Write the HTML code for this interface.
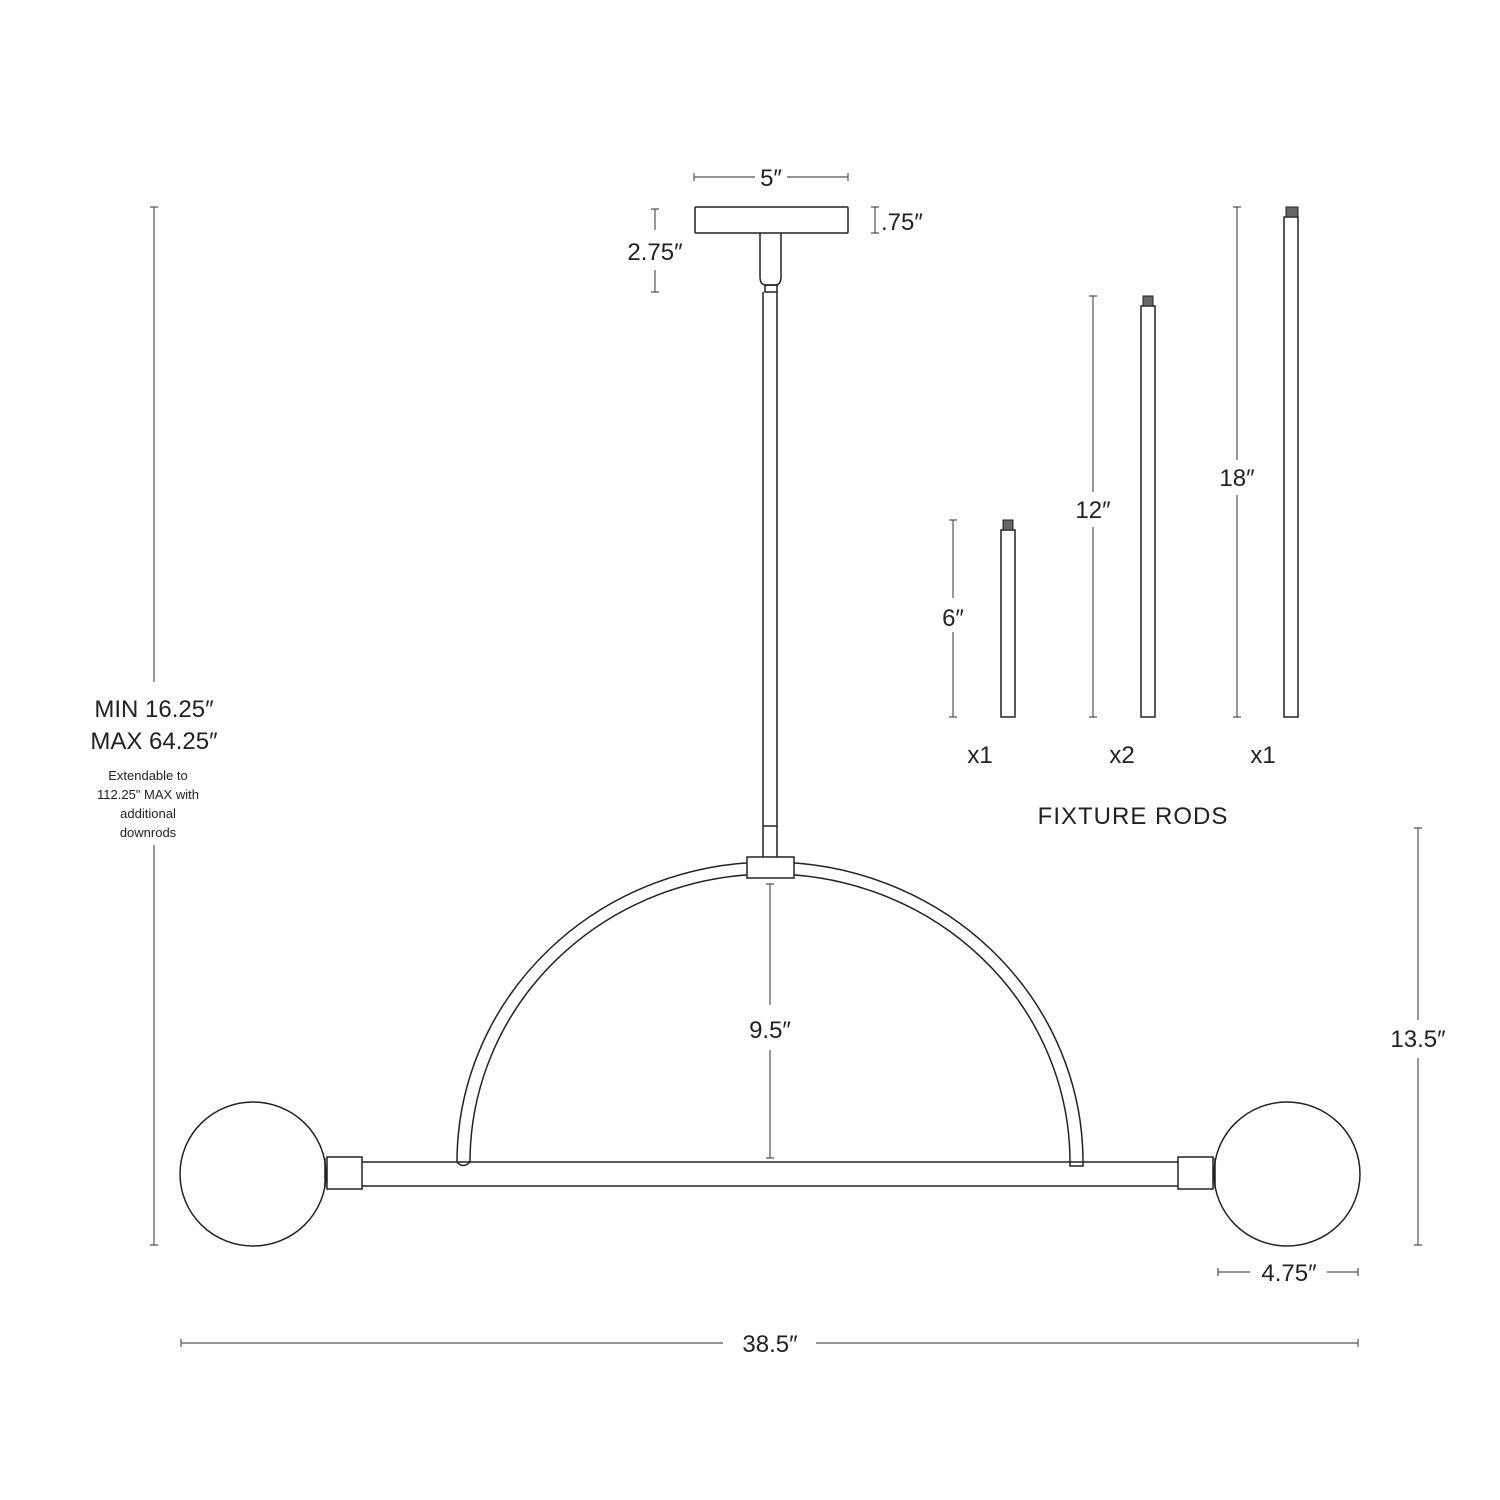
<!DOCTYPE html>
<html><head><meta charset="utf-8"><style>
html,body{margin:0;padding:0;background:#fff}
svg{display:block}
text{font-family:"Liberation Sans",sans-serif;fill:#222}
</style></head><body>
<svg width="1500" height="1500" viewBox="0 0 1500 1500" xmlns="http://www.w3.org/2000/svg">
<g fill="none" stroke="#222" stroke-width="1.5">
<!-- canopy -->
<rect x="695" y="207" width="153" height="26" rx="1"/>
<path d="M760 233 V277 Q760 285 766 285 H775 Q781 285 781 277 V233"/>
<rect x="765" y="285" width="12" height="7"/>
<!-- rod -->
<line x1="763" y1="292" x2="763" y2="857"/>
<line x1="777" y1="292" x2="777" y2="857"/>
<line x1="763" y1="826" x2="777" y2="826"/>
<!-- arch -->
<path d="M457 1162 A313 300 0 0 1 1083 1162"/>
<path d="M470 1162 A300 288 0 0 1 1070 1162"/>
<path d="M457 1162 Q463 1169 470 1162"/>
<path d="M1070 1162 V1166 H1083 V1162"/>
<rect x="747" y="857" width="47" height="21" fill="#fff"/>
<!-- bar -->
<line x1="362" y1="1162" x2="1178" y2="1162"/>
<line x1="362" y1="1186" x2="1178" y2="1186"/>
<rect x="327" y="1157" width="35" height="32" fill="#fff"/>
<rect x="1178" y="1157" width="35" height="32" fill="#fff"/>
<line x1="325" y1="1158" x2="325" y2="1188"/>
<line x1="1215" y1="1158" x2="1215" y2="1188"/>
<!-- globes -->
<ellipse cx="253" cy="1174" rx="73" ry="72"/>
<ellipse cx="1287" cy="1174" rx="73" ry="72"/>
<!-- fixture rods -->
<rect x="1001" y="530" width="14" height="187"/>
<rect x="1141" y="306" width="14" height="411"/>
<rect x="1284" y="217" width="14" height="500"/>
</g>
<g fill="#666" stroke="#222" stroke-width="1">
<rect x="1003" y="520" width="10" height="10"/>
<rect x="1143" y="296" width="10" height="10"/>
<rect x="1286" y="207" width="12" height="10"/>
</g>
<g stroke="#555" stroke-width="1.2" fill="none">
<path d="M694 173v8M694 177H755M787 177H848M848 173v8"/>
<path d="M651 209h8M655 209V230M655 270V292M651 292h8"/>
<path d="M871 207h8M875 207V233M871 233h8"/>
<path d="M150 207h8M154 207V682M154 845V1245M150 1245h8"/>
<path d="M766 884h8M770 884V1005M770 1050V1158M766 1158h8"/>
<path d="M1414 828h8M1418 828V1020M1418 1058V1245M1414 1245h8"/>
<path d="M1218 1268v8M1218 1272H1250M1327 1272H1358M1358 1268v8"/>
<path d="M181 1339v8M181 1343H723M816 1343H1358M1358 1339v8"/>
<path d="M949 520h8M953 520V598M953 632V717M949 717h8"/>
<path d="M1089 296h8M1093 296V492M1093 527V717M1089 717h8"/>
<path d="M1233 207h8M1237 207V460M1237 495V717M1233 717h8"/>
</g>
<g font-size="24">
<text x="771" y="186" text-anchor="middle">5″</text>
<text x="655" y="260" text-anchor="middle">2.75″</text>
<text x="881" y="230">.75″</text>
<text x="154" y="717" text-anchor="middle">MIN 16.25″</text>
<text x="154" y="749" text-anchor="middle">MAX 64.25″</text>
<text x="770" y="1038" text-anchor="middle">9.5″</text>
<text x="1418" y="1047" text-anchor="middle">13.5″</text>
<text x="1289" y="1281" text-anchor="middle">4.75″</text>
<text x="770" y="1352" text-anchor="middle">38.5″</text>
<text x="953" y="626" text-anchor="middle">6″</text>
<text x="1093" y="518" text-anchor="middle">12″</text>
<text x="1237" y="486" text-anchor="middle">18″</text>
<text x="980" y="763" text-anchor="middle">x1</text>
<text x="1122" y="763" text-anchor="middle">x2</text>
<text x="1263" y="763" text-anchor="middle">x1</text>
<text x="1133" y="824" text-anchor="middle" letter-spacing="1">FIXTURE RODS</text>
</g>
<g font-size="13" text-anchor="middle">
<text x="148" y="780">Extendable to</text>
<text x="148" y="799">112.25" MAX with</text>
<text x="148" y="818">additional</text>
<text x="148" y="837">downrods</text>
</g>
</svg>
</body></html>
